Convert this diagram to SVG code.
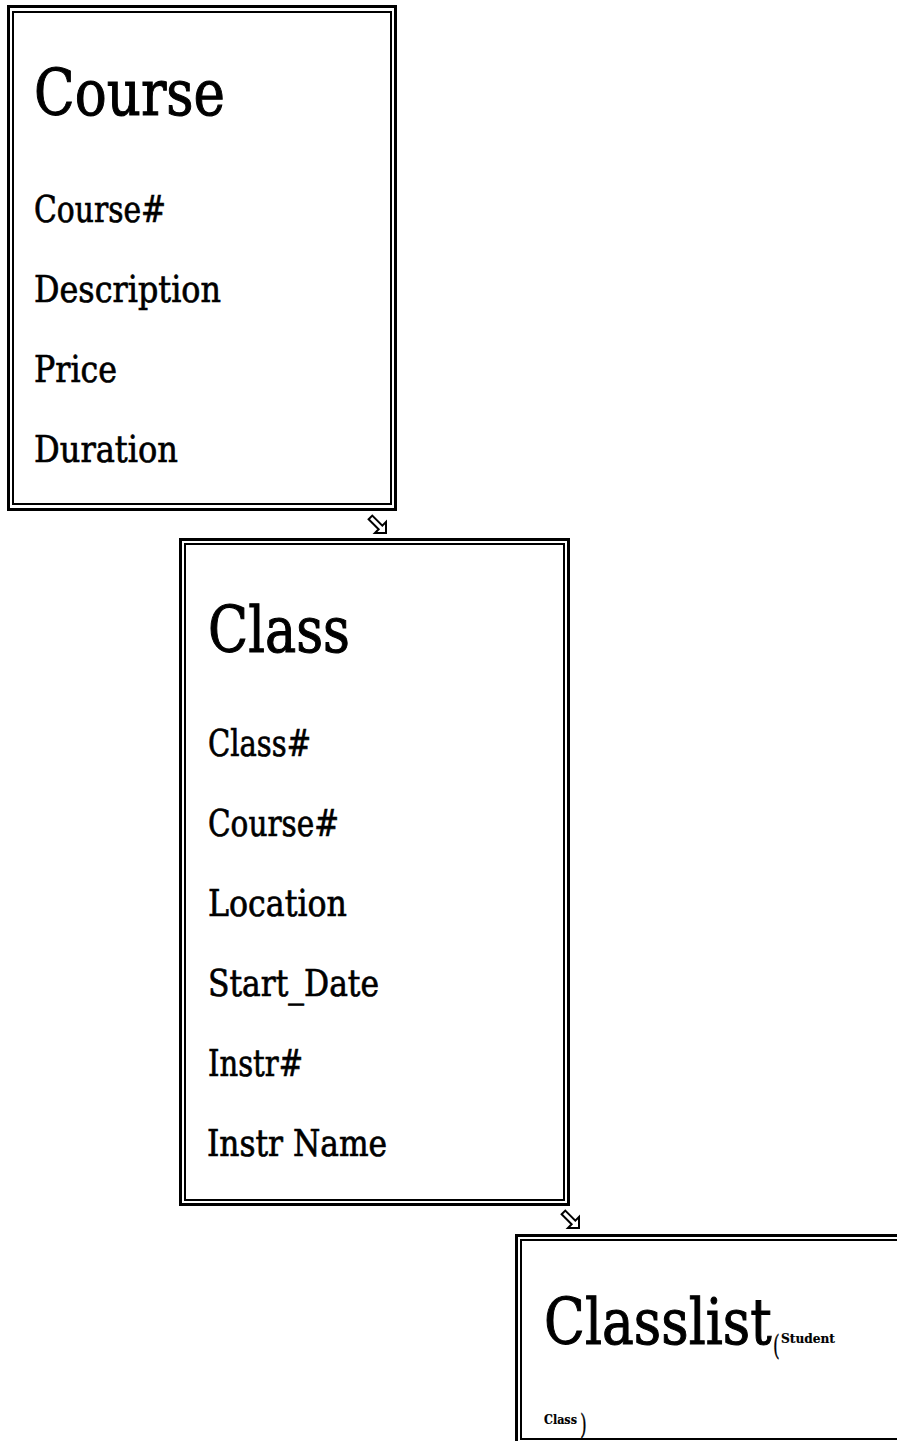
<svg xmlns="http://www.w3.org/2000/svg" xmlns:xlink="http://www.w3.org/1999/xlink" width="897" height="1441" viewBox="0 0 897 1441">
  <style>
    .outer { fill: none; stroke: #000; stroke-width: 3; }
    .inner { fill: none; stroke: #000; stroke-width: 2; }
    text { font-family: "DejaVu Serif", "Liberation Serif", serif; fill: #000; stroke: #000; }
    .title { font-size: 64px; stroke-width: 1.1; }
    .attr { font-size: 37px; stroke-width: 0.7; }
    .note { font-size: 13px; font-weight: bold; stroke-width: 0.2; }
    .paren { font-size: 28px; stroke-width: 0.3; }
    .arrow { fill: #fff; stroke: #000; stroke-width: 2; stroke-linejoin: miter; }
  </style>
  <defs>
    <!-- hollow block arrow pointing along +x, tip at origin -->
    <path id="blockArrow" class="arrow" d="M0 0 L-7.8 -7.8 L-7.8 -2.6 L-22 -2.6 L-22 2.6 L-7.8 2.6 L-7.8 7.8 Z"/>
  </defs>

  <rect width="897" height="1441" fill="#fff"/>

  <g id="course">
    <rect class="outer" x="8.5" y="6.5" width="387" height="503"/>
    <rect class="inner" x="13" y="12" width="378" height="492"/>
    <text class="title" x="34" y="115" textLength="191" lengthAdjust="spacingAndGlyphs">Course</text>
    <text class="attr" x="34" y="222" textLength="132" lengthAdjust="spacingAndGlyphs">Course#</text>
    <text class="attr" x="34" y="302" textLength="187" lengthAdjust="spacingAndGlyphs">Description</text>
    <text class="attr" x="34" y="382" textLength="83" lengthAdjust="spacingAndGlyphs">Price</text>
    <text class="attr" x="34" y="462" textLength="144" lengthAdjust="spacingAndGlyphs">Duration</text>
  </g>

  <g id="class">
    <rect class="outer" x="180.5" y="539.5" width="388" height="665"/>
    <rect class="inner" x="185" y="544" width="379" height="656"/>
    <text class="title" x="208" y="652" textLength="142" lengthAdjust="spacingAndGlyphs">Class</text>
    <text class="attr" x="208" y="756" textLength="103" lengthAdjust="spacingAndGlyphs">Class#</text>
    <text class="attr" x="208" y="836" textLength="131" lengthAdjust="spacingAndGlyphs">Course#</text>
    <text class="attr" x="208" y="916" textLength="139" lengthAdjust="spacingAndGlyphs">Location</text>
    <text class="attr" x="208" y="996" textLength="171" lengthAdjust="spacingAndGlyphs">Start_Date</text>
    <text class="attr" x="208" y="1076" textLength="95" lengthAdjust="spacingAndGlyphs">Instr#</text>
    <text class="attr" x="207" y="1156" textLength="180" lengthAdjust="spacingAndGlyphs">Instr Name</text>
  </g>

  <g id="classlist">
    <rect class="outer" x="516.5" y="1235.5" width="420" height="240"/>
    <rect class="inner" x="521" y="1240" width="420" height="199"/>
    <!-- title narrowed by a horizontal scale so its box ends where the note begins -->
    <text class="title" transform="translate(544 1344) scale(0.835 1)">Classlist</text>
    <text class="paren" transform="translate(773 1355) scale(0.62 1)">(</text>
    <text class="note" x="781" y="1343" textLength="54" lengthAdjust="spacingAndGlyphs">Student</text>
    <text class="note" transform="translate(544 1424) scale(0.86 1)">Class</text>
    <text class="paren" transform="translate(580 1434) scale(0.62 1)">)</text>
  </g>

  <g id="connectors">
    <use xlink:href="#blockArrow" transform="translate(386 533) rotate(45)"/>
    <use xlink:href="#blockArrow" transform="translate(579 1228) rotate(45)"/>
  </g>
</svg>
